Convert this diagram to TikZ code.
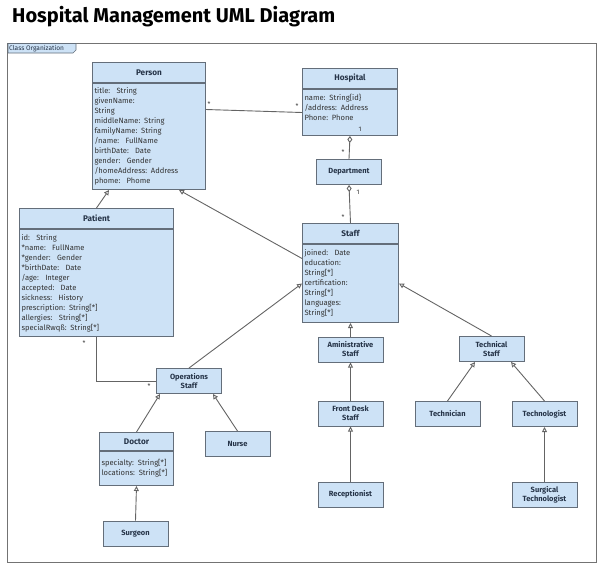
\documentclass[tikz,border=0pt]{standalone}
\usepackage{fontspec}
\setmainfont{Fira Sans}
\usepackage{xcolor}
\usepackage{tikz}
\usetikzlibrary{arrows.meta,calc}

\definecolor{clsfill}{RGB}{205,226,246}
\definecolor{clsline}{RGB}{100,110,122}
\definecolor{clstext}{RGB}{38,52,72}
\definecolor{wire}{RGB}{100,100,100}

\begin{document}
\begin{tikzpicture}[x=1pt, y=-1pt,
    cls/.style={draw=clsline, fill=clsfill, line width=1pt, inner sep=0pt},
    clsbox/.style={cls, minimum width=65pt, minimum height=25pt, align=center,
        font=\fontsize{7.5}{9}\selectfont\bfseries, text=clstext},
    clshead/.style={cls, anchor=north west, minimum height=20pt,
        font=\fontsize{8.2}{9}\selectfont\bfseries, text=clstext},
    clsattr/.style={cls, anchor=north west, align=left, inner xsep=2pt,
        font=\fontsize{7.6}{10}\selectfont, text=black!80},
    gen/.style={draw=wire, line width=0.9pt, -{Triangle[open,length=5pt,width=5pt]}},
    aggr/.style={draw=wire, line width=0.9pt, -{Diamond[open,length=7pt,width=5pt]}},
    assoc/.style={draw=wire, line width=0.9pt},
    mult/.style={font=\fontsize{6.5}{7}\selectfont, inner sep=0pt, text=black!80}]
    \useasboundingbox (0,0) rectangle (602,568);

    \node[anchor=base west, inner sep=0pt, font=\fontsize{20}{22}\selectfont\bfseries] (title) at (12,22) {Hospital Management UML Diagram};

    % frame
    \draw[draw=black!55, line width=1pt] (7,43) rectangle (596,562);
    \draw[draw=clsline, fill=clsfill, line width=0.7pt] (8,43.5) -- (76,43.5) -- (76,50) -- (73,53) -- (8,53) -- cycle;
    \node[anchor=west, inner sep=0pt, font=\fontsize{6.6}{7}\selectfont, text=clstext] (framelabel) at (9,48.5) {Class Organization};

    % classes with attributes
    \node[clshead, minimum width=113pt] (person) at (92,62) {Person};
    \node[clsattr, text width=109pt, minimum height=106pt] (personattr) at (person.south west)
        {title:~ String\\givenName:\\String\\middleName: String\\familyName: String\\/name:~ FullName\\birthDate:~ Date\\gender:~ Gender\\/homeAddress: Address\\phome:~ Phome};

    \node[clshead, minimum width=95pt] (hospital) at (302,68) {Hospital};
    \node[clsattr, text width=91pt, minimum height=46pt] (hospitalattr) at (hospital.south west)
        {name: String\{id\}\\/address: Address\\Phone: Phone\\\mbox{}};

    \node[clshead, minimum width=154pt] (patient) at (19,208) {Patient};
    \node[clsattr, text width=150pt, minimum height=107pt] (patientattr) at (patient.south west)
        {id:~ String\\{*}name:~ FullName\\{*}gender:~ Gender\\{*}birthDate:~ Date\\/age:~ Integer\\accepted:~ Date\\sickness:~ History\\prescription: String[*]\\allergies:~ String[*]\\specialRwqß: String[*]};

    \node[clshead, minimum width=96pt] (staff) at (302,223) {Staff};
    \node[clsattr, text width=92pt, minimum height=78pt] (staffattr) at (staff.south west)
        {joined:~ Date\\education:\\String[*]\\certification:\\String[*]\\languages:\\String[*]};

    \node[clshead, minimum width=74pt, minimum height=18pt] (doctor) at (99,432) {Doctor};
    \node[clsattr, text width=70pt, minimum height=34pt] (doctorattr) at (doctor.south west)
        {specialty: String[*]\\locations: String[*]};

    % plain classes
    \foreach \n/\x/\y/\t in {dept/349/172/Department, ops/189/381/{Operations\\Staff},
        admin/350.5/349.5/{Aministrative\\Staff}, frontdesk/350.5/413.5/{Front Desk\\Staff},
        receptionist/350.5/494.5/Receptionist, techstaff/491.5/349/{Technical\\Staff},
        technician/447.5/414/Technician, technologist/544.5/414/Technologist,
        surgtech/544.5/494.5/{Surgical\\Technologist}, nurse/237.5/444/Nurse,
        surgeon/135.5/533.5/Surgeon} {
        \node[clsbox] (\n) at (\x,\y) {\t};
    }

    % associations
    \draw[assoc] ([yshift=27pt]personattr.east) -- (hospitalattr.west);
    \node[mult] (m1) at (209,104) {*};
    \node[mult] (m2) at (297,106) {*};
    \draw[assoc] (patientattr.south) |- (ops.west);
    \node[mult] (m3) at (84,343) {*};
    \node[mult] (m4) at (149,386) {*};

    % aggregations
    \draw[aggr] (dept.north) -- (hospitalattr.south);
    \node[mult] (m5) at (360,129) {1};
    \node[mult] (m6) at (343,152) {*};
    \draw[aggr] (staff.north) -- (dept.south);
    \node[mult] (m7) at (358,192) {1};
    \node[mult] (m8) at (343,217) {*};

    % generalizations
    \draw[gen] (patient.north) -- ([xshift=-40pt]personattr.south);
    \draw[gen] ([yshift=25pt]staffattr.west) -- ([xshift=30pt]personattr.south);
    \draw[gen] (ops.north) -- (staffattr.west);
    \draw[gen] (techstaff.north) -- (staffattr.east);
    \draw[gen] (admin.north) -- (staffattr.south);
    \draw[gen] (frontdesk.north) -- (admin.south);
    \draw[gen] (receptionist.north) -- (frontdesk.south);
    \draw[gen] (doctor.north) -- ([xshift=-29pt]ops.south);
    \draw[gen] (nurse.north) -- ([xshift=24pt]ops.south);
    \draw[gen] (surgeon.north) -- (doctorattr.south);
    \draw[gen] (technician.north) -- ([xshift=-16.5pt]techstaff.south);
    \draw[gen] (technologist.north) -- ([xshift=19.5pt]techstaff.south);
    \draw[gen] (surgtech.north) -- (technologist.south);
\end{tikzpicture}
\end{document}
